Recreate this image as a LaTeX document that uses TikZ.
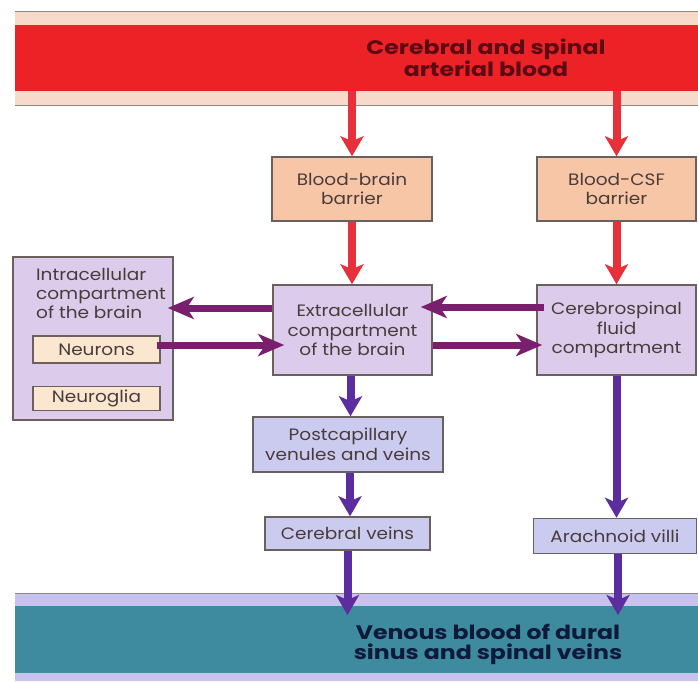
\documentclass[tikz,border=0pt]{standalone}
\usepackage{fontspec}
\setmainfont{Poppins}
\newfontfamily\boxfont[FakeStretch=1.12]{Poppins}
\newfontfamily\bandfont[FakeStretch=1.21]{Poppins}
\usetikzlibrary{arrows.meta}
\definecolor{bandred}{HTML}{EC2227}
\definecolor{pinkstrip}{HTML}{F8DACB}
\definecolor{tealband}{HTML}{3E8A9E}
\definecolor{lavstrip}{HTML}{C8C3EE}
\definecolor{peach}{HTML}{F6C6A6}
\definecolor{lilac}{HTML}{DCCBEA}
\definecolor{bluelav}{HTML}{CBCBF0}
\definecolor{cream}{HTML}{FBE6D0}
\definecolor{arrred}{HTML}{E8303A}
\definecolor{arrmag}{HTML}{7A1F6E}
\definecolor{arrpur}{HTML}{5B2D9E}
\definecolor{toptxt}{HTML}{5C0A14}
\definecolor{bottxt}{HTML}{0D1A3A}
\definecolor{boxtxt}{HTML}{4A3B3B}
\definecolor{edge}{HTML}{6A6060}
\definecolor{rule}{HTML}{8A8A8A}
\begin{document}
\begin{tikzpicture}[x=1pt,y=-1pt,
  box/.style={draw=edge, line width=1.5pt, rectangle, inner sep=0pt, align=center,
    text=boxtxt, font=\boxfont\fontsize{16.5}{19.5}\selectfont},
  bandtext/.style={align=center, font=\bandfont\fontsize{19.5}{20}\selectfont\bfseries},
  redarrow/.style={draw=arrred, line width=8pt, -{Stealth[width=23pt,length=20pt,inset=5pt]}},
  magarrow/.style={draw=arrmag, line width=7pt, -{Stealth[width=22pt,length=26pt,inset=7pt]}},
  purarrow/.style={draw=arrpur, line width=8pt, -{Stealth[width=23pt,length=20pt,inset=5pt]}}
]
\useasboundingbox (0,0) rectangle (698,681);
\fill[white] (0,0) rectangle (698,681);
% top band
\fill[pinkstrip] (15,11) rectangle (698,105);
\node[fill=bandred, minimum width=683pt, minimum height=66pt, inner sep=0pt, anchor=north west] (redband) at (15,25) {};
\draw[rule, line width=1pt] (15,11) -- (698,11);
\draw[rule, line width=1pt] (15,105) -- (698,105);
\node[bandtext, text=toptxt] (toplabel) at (486,58) {Cerebral and spinal\\arterial blood};
% bottom band
\fill[lavstrip] (15,593) rectangle (698,681);
\node[fill=tealband, minimum width=683pt, minimum height=67pt, inner sep=0pt, anchor=north west] (tealband) at (15,606) {};
\draw[rule, line width=1pt] (15,593) -- (698,593);
\node[bandtext, text=bottxt] (botlabel) at (488,644) {Venous blood of dural\\sinus and spinal veins};
% boxes
\node[box, fill=peach, minimum width=160pt, minimum height=64pt] (bbb) at (352,189) {Blood-brain\\barrier};
\node[box, fill=peach, minimum width=159pt, minimum height=64pt] (bcsf) at (616.5,189) {Blood-CSF\\barrier};
\node[box, fill=lilac, minimum width=159pt, minimum height=90pt] (ext) at (352.5,330) {Extracellular\\compartment\\of the brain};
\node[box, fill=lilac, minimum width=159pt, minimum height=90pt] (csf) at (616.5,330) {Cerebrospinal\\fluid\\compartment};
\node[box, fill=lilac, minimum width=160pt, minimum height=163pt] (intra) at (93,338.5) {};
\node[align=left, anchor=north west, inner sep=0pt, text=boxtxt, font=\boxfont\fontsize{16.5}{19}\selectfont] (intratitle) at (36,268) {Intracellular\\compartment\\of the brain};
\node[box, fill=cream, minimum width=127pt, minimum height=27pt] (neurons) at (96.5,349.5) {Neurons};
\node[box, fill=cream, minimum width=127pt, minimum height=24pt] (neuroglia) at (96.5,398.5) {Neuroglia};
\node[box, fill=bluelav, minimum width=190pt, minimum height=55pt] (post) at (348,444.5) {Postcapillary\\venules and veins};
\node[box, fill=bluelav, minimum width=165pt, minimum height=33pt] (cveins) at (347.5,533.5) {Cerebral veins};
\node[box, fill=bluelav, minimum width=163pt, minimum height=35pt] (villi) at (615,536) {Arachnoid villi};
% red arrows
\draw[redarrow] (redband.south -| bbb.north) -- (bbb.north);
\draw[redarrow] (bbb.south) -- (ext.north -| bbb.south);
\draw[redarrow] (redband.south -| bcsf.north) -- (bcsf.north);
\draw[redarrow] (bcsf.south) -- (csf.north -| bcsf.south);
% horizontal arrows
\draw[magarrow, shorten >=-6pt] ([yshift=22pt]ext.west) -- ([yshift=22pt]ext.west -| intra.east);
\draw[magarrow, shorten <=-4pt, shorten >=-12pt] ([yshift=-15pt]ext.west -| neurons.east) -- ([yshift=-15pt]ext.west);
\draw[magarrow, shorten <=-8pt, shorten >=-12pt] ([yshift=23pt]csf.west) -- ([yshift=23pt]csf.west -| ext.east);
\draw[magarrow, shorten >=-6pt] ([yshift=-15pt]ext.east) -- ([yshift=-15pt]ext.east -| csf.west);
% purple arrows
\draw[purarrow] ([xshift=-2pt]ext.south) -- ([xshift=-2pt]ext.south |- post.north);
\draw[purarrow] ([xshift=2pt]post.south) -- ([xshift=2pt]post.south |- cveins.north);
\draw[purarrow] (csf.south) -- (csf.south |- villi.north);
\draw[purarrow, shorten >=-9pt] (cveins.south) -- (cveins.south |- tealband.north);
\draw[purarrow, shorten >=-9pt] ([xshift=3pt]villi.south) -- ([xshift=3pt]villi.south |- tealband.north);
\end{tikzpicture}
\end{document}
